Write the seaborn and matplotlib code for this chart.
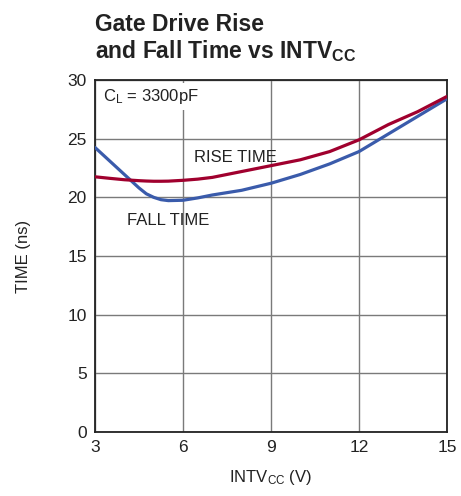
import pandas as pd
import matplotlib
matplotlib.use("Agg")
import matplotlib.pyplot as plt
import seaborn as sns

# values
intvcc = [3, 3.5, 4, 4.5, 4.75, 5, 5.25, 5.5, 6, 6.5, 7, 7.5, 8, 8.5, 9, 10, 11, 12, 13, 14, 15]
fall_time = [24.25, 23.1, 21.95, 20.8, 20.3, 20.0, 19.8, 19.72, 19.75, 19.95, 20.2, 20.4,
             20.6, 20.9, 21.2, 21.95, 22.85, 23.9, 25.4, 26.9, 28.4]
rise_time = [21.75, 21.62, 21.5, 21.42, 21.39, 21.37, 21.37, 21.38, 21.45, 21.55, 21.7, 21.95,
             22.2, 22.45, 22.7, 23.2, 23.9, 24.9, 26.2, 27.3, 28.6]
x_ticks = [3, 6, 9, 12, 15]
y_ticks = [0, 5, 10, 15, 20, 25, 30]

sns.set_style("white")
plt.rcParams["font.family"] = ["Liberation Sans", "DejaVu Sans"]
plt.rcParams["mathtext.default"] = "regular"

data = pd.DataFrame({
    "INTVCC": intvcc * 2,
    "TIME": fall_time + rise_time,
    "curve": ["FALL"] * len(intvcc) + ["RISE"] * len(intvcc),
})

fig = plt.figure(figsize=(4.61, 4.96), dpi=100)
ax = fig.add_axes([95 / 461, 64 / 496, 352 / 461, 352 / 496])

sns.lineplot(data=data, x="INTVCC", y="TIME", hue="curve",
             palette={"FALL": "#3a5bab", "RISE": "#a0002e"},
             linewidth=2.3, legend=False, ax=ax, zorder=3)

ax.set_xlim(3, 15)
ax.set_ylim(0, 30)
ax.set_xticks(x_ticks)
ax.set_yticks(y_ticks)
ax.grid(True, color="#7a7a7a", linewidth=1.0)
ax.tick_params(axis="both", length=0, labelsize=12.5, pad=6, colors="#222222")
for sp in ax.spines.values():
    sp.set_color("#222222")
    sp.set_linewidth(1.3)

ax.set_xlabel("INTV$_{CC}$ (V)", fontsize=12, color="#222222", labelpad=9)
ax.set_ylabel("TIME (ns)", fontsize=12, color="#222222", labelpad=26)

ax.text(3.27, 28.6, "C$_{L}$ = 3300pF", fontsize=12, color="#222222",
        va="center", ha="left", zorder=4,
        bbox=dict(facecolor="white", edgecolor="none", pad=3))
ax.text(7.8, 23.4, "RISE TIME", fontsize=12, color="#222222",
        ha="center", va="center", zorder=4)
ax.text(5.5, 18.0, "FALL TIME", fontsize=12, color="#222222",
        ha="center", va="center", zorder=4)

fig.text(95 / 461, 1 - 58 / 496, "Gate Drive Rise\nand Fall Time vs INTV$_{CC}$",
         fontsize=16.5, fontweight="bold", color="#222222", ha="left", va="baseline",
         linespacing=1.1)

fig.savefig("out.png", dpi=100)
